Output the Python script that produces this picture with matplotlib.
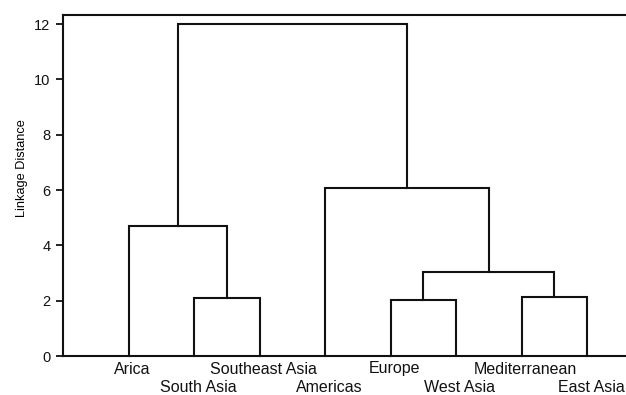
import matplotlib.pyplot as plt

# Leaves of the tree, in the order they are drawn along the bottom.
regions = [
    "Arica", "South Asia", "Southeast Asia", "Americas",
    "Europe", "West Asia", "Mediterranean", "East Asia",
]

# Merge steps: each joins two clusters (leaf index, or len(regions) + step)
# at the given linkage distance.
merge_left = [1, 4, 6, 9, 0, 3, 12]
merge_right = [2, 5, 7, 10, 8, 11, 13]
merge_height = [2.1, 2.04, 2.12, 3.04, 4.71, 6.08, 12.0]

y_ticks = [0, 2, 4, 6, 8, 10, 12]

LINE_COLOR = "#111111"
FONT = "Liberation Sans"


def draw_dendrogram(ax):
    """Draw the tree as U-shaped links between cluster centres."""
    pos = {i: (i + 1, 0.0) for i in range(len(regions))}
    for step, (a, b, h) in enumerate(zip(merge_left, merge_right, merge_height)):
        xa, ya = pos[a]
        xb, yb = pos[b]
        ax.plot([xa, xa, xb, xb], [ya, h, h, yb],
                color=LINE_COLOR, linewidth=1.5, solid_joinstyle="miter",
                clip_on=False)
        pos[len(regions) + step] = ((xa + xb) / 2, h)


fig = plt.figure(figsize=(6.26, 3.95), dpi=100)
ax = fig.add_axes([63 / 626, 39 / 395, 1 - 63 / 626, 341 / 395])

draw_dendrogram(ax)

ax.set_xlim(0, (626 - 63) / 65.5)
ax.set_ylim(0, 12.33)

ax.spines["right"].set_visible(False)
for side in ["left", "top", "bottom"]:
    ax.spines[side].set_linewidth(1.5)
    ax.spines[side].set_color(LINE_COLOR)

ax.set_xticks([])
ax.set_yticks(y_ticks)
ax.set_yticklabels([str(t) for t in y_ticks], fontfamily=FONT, fontsize=10.5)
ax.tick_params(axis="y", direction="out", length=5, width=1.3, pad=4,
               colors=LINE_COLOR)

ax.set_ylabel("Linkage Distance", fontfamily=FONT, fontsize=9.2)
ax.yaxis.set_label_coords(-0.063, 0.55)

# Leaf labels alternate between two rows so they do not collide.
for i, name in enumerate(regions):
    row = 0 if i % 2 == 0 else 1
    ax.annotate(
        name,
        xy=(i + 1, 0),
        xycoords="data",
        xytext=(4, -13 - 19 * row),
        textcoords="offset pixels",
        ha="center",
        va="center",
        fontfamily=FONT,
        fontsize=11.5,
        color=LINE_COLOR,
        annotation_clip=False,
    )

fig.savefig("out.png", dpi=100)
